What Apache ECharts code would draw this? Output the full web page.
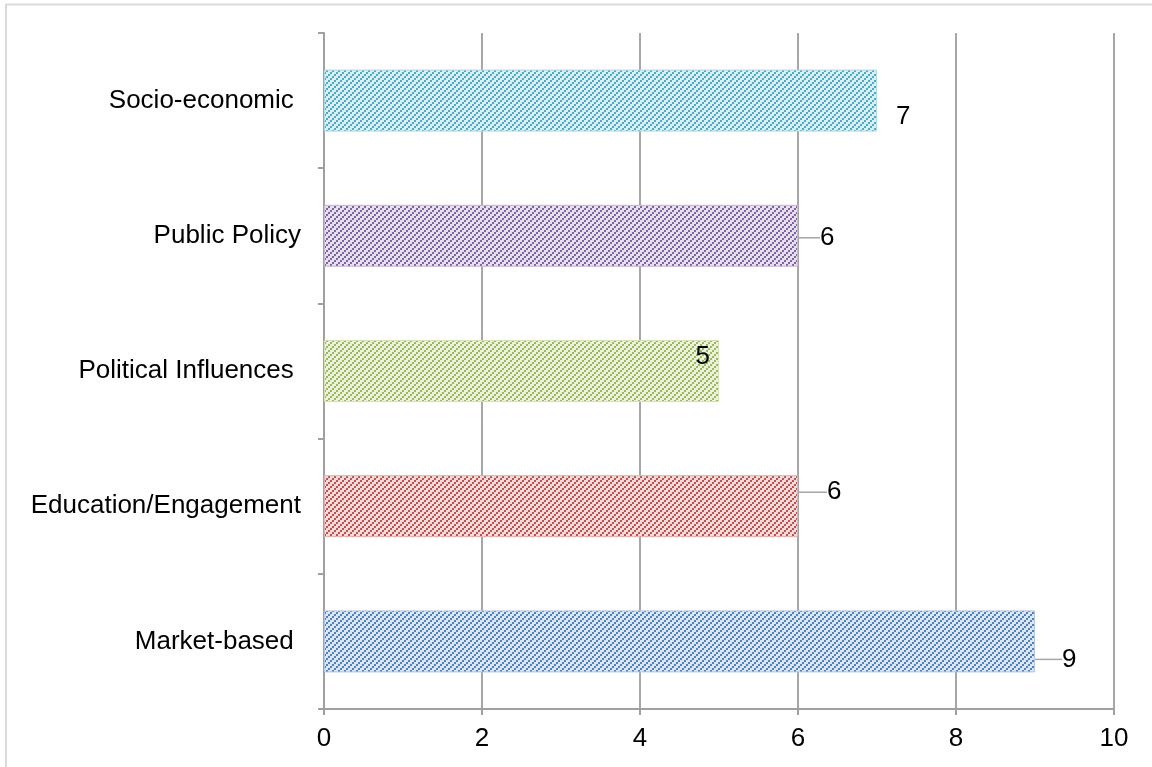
<!DOCTYPE html>
<html>
<head>
<meta charset="utf-8">
<script src="https://cdn.jsdelivr.net/npm/echarts@6/dist/echarts.min.js"></script>
<style>
  html, body { margin: 0; padding: 0; background: #fff; }
  #chart { width: 1152px; height: 767px; }
</style>
</head>
<body>
<div id="chart"></div>
<script>
// Categories listed bottom to top, as the category axis stacks them
const categories = ['Market-based ', 'Education/Engagement', 'Political Influences ', 'Public Policy', 'Socio-economic '];
const values = [9, 6, 5, 6, 7];
const barColors = ['#4f81bd', '#c0504d', '#9bbb59', '#8064a2', '#4bacc6'];
const xTicks = [0, 2, 4, 6, 8, 10];

// Label offsets (dx, dy) and whether a leader line is drawn
const labelShift = [
  { dx: 22, dy: 18, line: true },
  { dx: 24, dy: -14, line: true },
  { dx: -4, dy: -14, line: false, inside: true },
  { dx: 17, dy: 2, line: true },
  { dx: 14, dy: 16, line: false }
];

function mix(hex, t) {
  const n = parseInt(hex.slice(1), 16);
  const r = (n >> 16) & 255, g = (n >> 8) & 255, b = n & 255;
  const f = c => Math.round(c + (255 - c) * t);
  return 'rgb(' + f(r) + ',' + f(g) + ',' + f(b) + ')';
}

// Upward diagonal hatch tile: pale ground with stair-stepped 2x2 blocks
function hatch(hex) {
  const s = 6;
  const c = document.createElement('canvas');
  c.width = s; c.height = s;
  const ctx = c.getContext('2d');
  ctx.fillStyle = mix(hex, 0.8);
  ctx.fillRect(0, 0, s, s);
  ctx.fillStyle = hex;
  for (let by = 0; by < 3; by++) {
    for (let bx = 0; bx < 3; bx++) {
      if ((bx + by) % 3 === 0) ctx.fillRect(bx * 2, by * 2, 2, 2);
    }
  }
  return { image: c, repeat: 'repeat' };
}

const data = values.map((v, i) => ({
  value: v,
  itemStyle: { color: hatch(barColors[i]), borderColor: mix(barColors[i], 0.55), borderWidth: 1 },
  label: { position: labelShift[i].inside ? 'insideRight' : 'right' },
  labelLine: { show: labelShift[i].line }
}));

const chart = echarts.init(document.getElementById('chart'), null, { renderer: 'canvas' });
chart.setOption({
  animation: false,
  backgroundColor: '#ffffff',
  textStyle: { fontFamily: 'Liberation Sans, Arial, sans-serif' },
  graphic: [{
    type: 'rect',
    shape: { x: 6, y: 4.5, width: 1300, height: 900 },
    style: { fill: 'none', stroke: '#d9d9d9', lineWidth: 2 },
    silent: true, z: -10
  }],
  grid: { left: 324, right: 38, top: 33, bottom: 58, containLabel: false },
  xAxis: {
    type: 'value',
    min: xTicks[0],
    max: xTicks[xTicks.length - 1],
    interval: xTicks[1] - xTicks[0],
    axisLine: { show: true, lineStyle: { color: '#a0a0a0', width: 2 } },
    axisTick: { show: true, length: 6, lineStyle: { color: '#a0a0a0', width: 2 } },
    splitLine: { show: true, lineStyle: { color: '#8a8a8a', width: 1.5 } },
    axisLabel: { color: '#000', fontSize: 26, margin: 17, fontFamily: 'Liberation Sans' }
  },
  yAxis: {
    type: 'category',
    data: categories,
    axisLine: { show: true, lineStyle: { color: '#a0a0a0', width: 2 } },
    axisTick: { show: true, length: 6, lineStyle: { color: '#a0a0a0', width: 2 } },
    splitLine: { show: false },
    axisLabel: { color: '#000', fontSize: 26, margin: 23, fontFamily: 'Liberation Sans' }
  },
  series: [{
    type: 'bar',
    data: data,
    barWidth: 62,
    label: {
      show: true,
      color: '#000',
      fontSize: 26,
      distance: 5,
      fontFamily: 'Liberation Sans'
    },
    labelLine: { show: true, lineStyle: { color: '#a6a6a6', width: 1.5 }, length2: 6 },
    labelLayout: function (p) {
      const s = labelShift[p.dataIndex];
      return { dx: s.dx, dy: s.dy };
    }
  }]
});
</script>
</body>
</html>
